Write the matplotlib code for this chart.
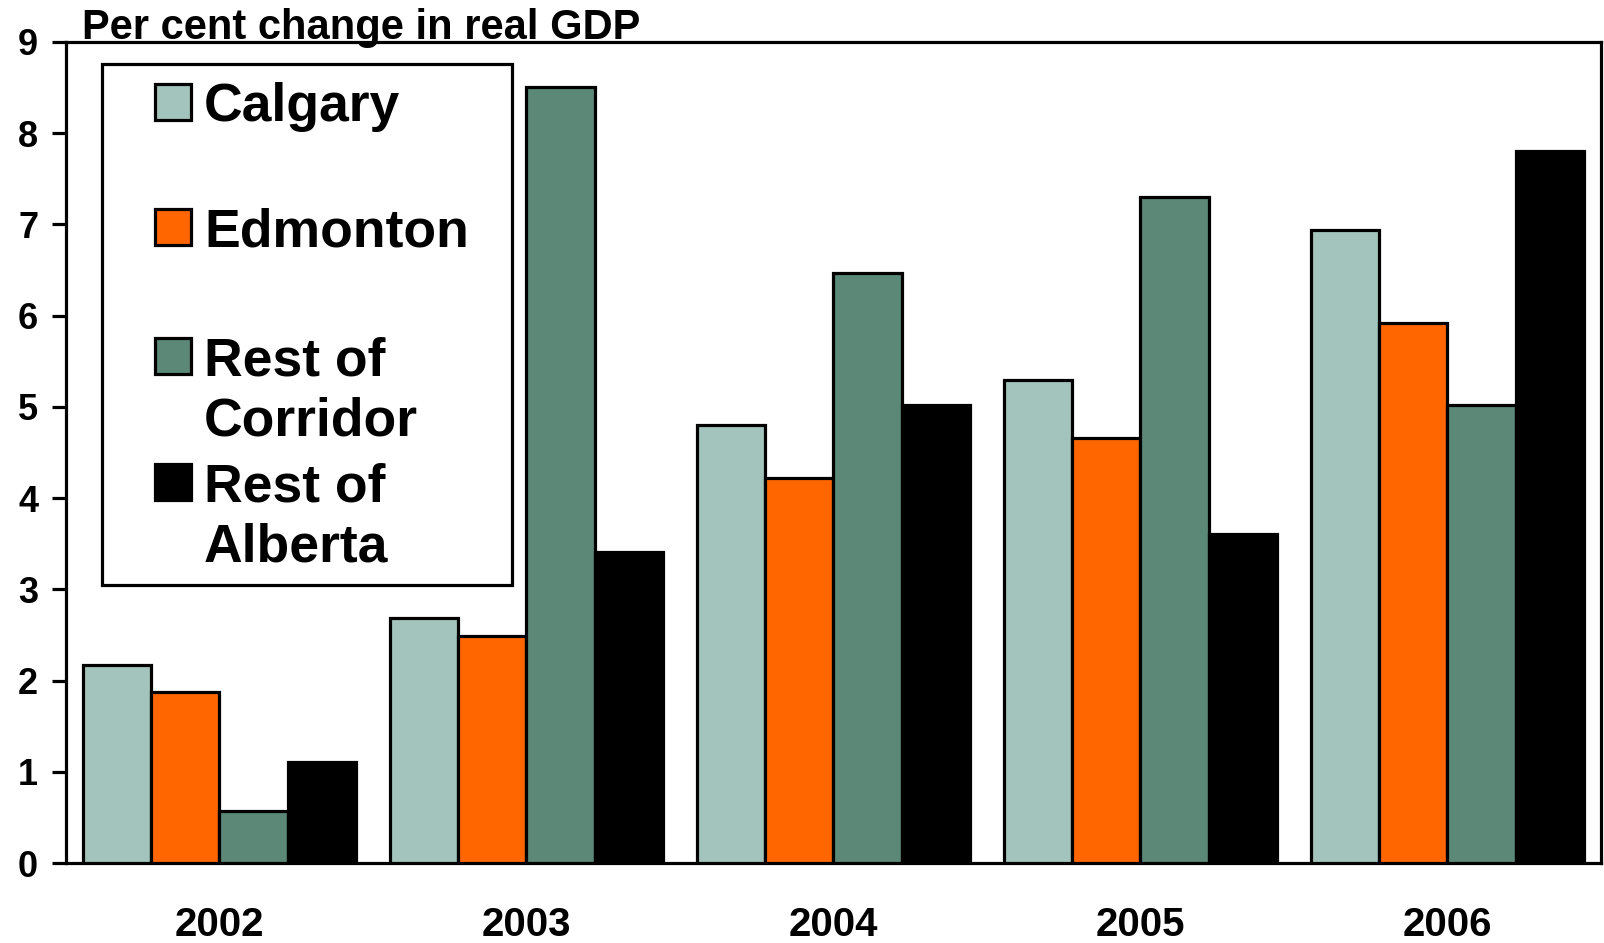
import matplotlib
matplotlib.use("Agg")
import matplotlib.pyplot as plt
from matplotlib.patches import Rectangle
import numpy as np

plt.rcParams['font.family'] = ['Liberation Sans', 'DejaVu Sans']
plt.rcParams['font.weight'] = 'bold'

years = ["2002", "2003", "2004", "2005", "2006"]
series = ["Calgary", "Edmonton", "Rest of\nCorridor", "Rest of\nAlberta"]
calgary = [2.17, 2.69, 4.80, 5.29, 6.94]
edmonton = [1.88, 2.49, 4.22, 4.66, 5.92]
rest_corridor = [0.57, 8.51, 6.47, 7.30, 5.02]
rest_alberta = [1.11, 3.41, 5.02, 3.61, 7.81]
colors = ["#A3C4BC", "#FF6600", "#5C8878", "#000000"]
y_ticks = list(range(0, 10))

values = [calgary, edmonton, rest_corridor, rest_alberta]

fig = plt.figure(figsize=(16.04, 9.43), dpi=100)
ax = fig.add_axes([0.0411, 0.0848, 0.9570, 0.8707])

x = np.arange(len(years))
width = 0.223
for i, (vals, col) in enumerate(zip(values, colors)):
    ax.bar(x + (i - 1.5) * width, vals, width=width, color=col,
           edgecolor="black", linewidth=2.3, zorder=3)

ax.set_xlim(-0.5, len(years) - 0.5)
ax.set_ylim(0, 9)
ax.set_yticks(y_ticks)
ax.set_yticklabels([str(t) for t in y_ticks], fontsize=26, fontweight='bold')
ax.set_xticks(x)
ax.set_xticklabels(years, fontsize=29, fontweight='bold')
ax.tick_params(axis='x', length=0, pad=31)
ax.tick_params(axis='y', direction='out', length=10, width=2.3, pad=10)
for s in ax.spines.values():
    s.set_linewidth(2.3)

fig.text(82 / 1604, 1 - 38.5 / 943, "Per cent change in real GDP",
         fontsize=30, fontweight='bold', ha='left', va='baseline')

# legend box built by hand so that each swatch sits at its label's first line
W, H = 1604.0, 943.0
def fx(px):
    return px / W
def fy(py):
    return 1 - py / H

fig.patches.append(Rectangle((fx(102), fy(585)), fx(512) - fx(102), fy(64) - fy(585),
                             transform=fig.transFigure, facecolor='white',
                             edgecolor='black', linewidth=2.3, zorder=5))
first_line_y = [102, 227, 356, 482]
line_gap = 60.5
sq = 36
for label, col, yc in zip(series, colors, first_line_y):
    fig.patches.append(Rectangle((fx(155), fy(yc + sq / 2)), fx(sq), sq / H,
                                 transform=fig.transFigure, facecolor=col,
                                 edgecolor='black', linewidth=2.3, zorder=6))
    for k, line in enumerate(label.split("\n")):
        fig.text(fx(204), fy(yc + k * line_gap), line, fontsize=38.5,
                 fontweight='bold', ha='left', va='center_baseline', zorder=7)

fig.savefig("out.png", dpi=100)
